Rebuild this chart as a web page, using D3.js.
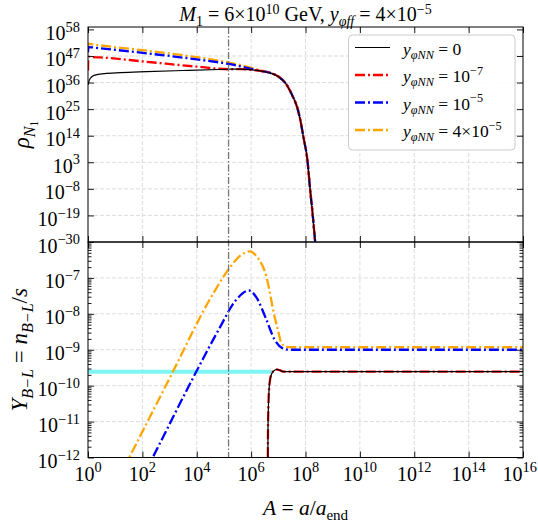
<!DOCTYPE html>
<html><head><meta charset="utf-8">
<script src="https://cdn.jsdelivr.net/npm/d3@7"></script>
<style>body{margin:0;background:#fff}svg{display:block}</style>
</head><body>
<svg id="chart" width="538" height="523"></svg>
<script>
// ---- data (log10 values) ----
// upper panel: rho_N1 versus A = a/a_end
const rhoHeadA_0   = [0, 0.05, 0.12, 0.26, 0.6, 1.2, 2.16, 3.5, 5.1, 5.6, 6.07, 6.4];
const rhoHead_0    = [35.0, 37.0, 38.2, 39.1, 39.7, 40.1, 40.5, 41.0, 41.5, 41.6, 41.2, 40.7];
const rhoHeadA_m7  = [0, 0.015, 0.44, 2.16, 4.0, 5.22, 5.6, 6.07, 6.4];
const rhoHead_m7   = [41.0, 46.6, 46.4, 44.6, 42.6, 41.5, 41.6, 41.2, 40.7];
const rhoHeadA_m5  = [0, 0.015, 0.44, 2.16, 4.0, 5.22, 6.08, 6.4];
const rhoHead_m5   = [48.5, 50.7, 50.2, 48.1, 45.6, 43.6, 41.5, 40.7];
const rhoHeadA_4m5 = [0, 0.015, 0.19, 2.16, 4.0, 5.22, 6.08, 6.4];
const rhoHead_4m5  = [50.0, 52.1, 51.8, 49.2, 46.5, 44.2, 41.9, 40.9];
// common Boltzmann-suppressed tail
const rhoTailA = [6.7, 7.0, 7.3, 7.5, 7.7, 7.8, 7.92, 8.07, 8.16, 8.26, 8.35, 8.42];
const rhoTail  = [40.0, 38.5, 35.2, 31.0, 25.5, 21.0, 13.6, 3.9, -7.1, -18.1, -29.2, -37];

// lower panel: Y_{B-L}
const yblA_0   = [6.60, 6.612, 6.62, 6.635, 6.66, 6.7, 6.75, 6.85, 6.95, 7.05, 7.2, 16];
const ybl_0    = [-14, -12.5, -11.3, -10.6, -10.1, -9.82, -9.68, -9.58, -9.55, -9.57, -9.61, -9.61];
const yblA_m5  = [1.5, 2.40, 3.99, 4.8, 5.46, 5.92, 6.2, 6.56, 6.85, 7.14, 7.41, 16];
const ybl_m5   = [-13.3, -11.97, -9.6, -8.45, -7.6, -7.35, -7.55, -8.16, -8.7, -8.95, -9.0, -9.0];
const yblA_4m5 = [1.0, 1.57, 3.13, 4.48, 5.21, 5.6, 5.94, 6.2, 6.56, 6.86, 7.0, 7.11, 7.29, 7.5, 16];
const ybl_4m5  = [-12.76, -11.92, -9.6, -7.6, -6.72, -6.38, -6.26, -6.4, -6.96, -8.07, -8.5, -8.81, -8.92, -8.93, -8.93];

const observedLogY = -9.61;          // observed Y_{B-L}
const observedEndLogA = 6.75;
const reheatLogA = 5.17;             // vertical marker

const xTickExps = [0, 2, 4, 6, 8, 10, 12, 14, 16];
const topTickExps = [58, 47, 36, 25, 14, 3, -8, -19, -30];
const botTickExps = [-12, -11, -10, -9, -8, -7];

// ---- layout ----
const FONT = '"Liberation Serif"';
const W = 538;
const L = 88, R = 523, T1 = 27, B1 = 242, T2 = 242, B2 = 457.5;
const svg = d3.select("#chart");
svg.append("rect").attr("width", 538).attr("height", 523).attr("fill", "#fff");

const x = d3.scaleLog().domain([1, 1e16]).range([L, R]);
const yTop = d3.scaleLog().domain([1e-30, 1e59]).range([B1, T1]);
const yBot = d3.scaleLog().domain([1e-12, 1e-6]).range([B2, T2]);
const p10 = v => Math.pow(10, v);

const defs = svg.append("defs");
defs.append("clipPath").attr("id", "clipTop").append("rect").attr("x", L).attr("y", T1).attr("width", R - L).attr("height", B1 - T1);
defs.append("clipPath").attr("id", "clipBot").append("rect").attr("x", L).attr("y", T2).attr("width", R - L).attr("height", B2 - T2);

// math-style text made of tspans
function mtext(g, px, py, parts, size, anchor, transform) {
  const t = g.append("text").style("font-family", FONT).style("font-size", size + "px")
    .attr("text-anchor", anchor || "start").attr("fill", "#000");
  if (transform) t.attr("transform", transform); else t.attr("x", px).attr("y", py);
  let cur = 0;
  parts.forEach(p => {
    const shift = (p.s || 0) * size;
    const ts = t.append("tspan").text(p.t).attr("dy", shift - cur);
    cur = shift;
    if (p.f) ts.style("font-size", (size * p.f) + "px");
    if (p.i) ts.style("font-style", "italic");
  });
  return t;
}
const SUP = -0.42, SUB = 0.25;
function powLabel(e) {
  return [{t: "10"}, {t: String(e).replace("-", "\u2212"), s: SUP, f: 0.72}];
}

// ---- grids ----
const grid = svg.append("g").attr("stroke", "#d4d4d4").attr("stroke-width", 0.8).attr("stroke-dasharray", "4,2");
xTickExps.slice(1, -1).forEach(e => {
  grid.append("line").attr("x1", x(p10(e))).attr("x2", x(p10(e))).attr("y1", T1).attr("y2", B2);
});
topTickExps.slice(1, -1).forEach(e => {
  grid.append("line").attr("x1", L).attr("x2", R).attr("y1", yTop(p10(e))).attr("y2", yTop(p10(e)));
});
botTickExps.slice(1).forEach(e => {
  grid.append("line").attr("x1", L).attr("x2", R).attr("y1", yBot(p10(e))).attr("y2", yBot(p10(e)));
});

// ---- lines ----
function series(A, V) { return A.map((a, i) => [p10(a), p10(V[i])]); }
const lineTop = d3.line().x(d => x(d[0])).y(d => yTop(d[1])).curve(d3.curveMonotoneX);
const lineBot = d3.line().x(d => x(d[0])).y(d => yBot(d[1])).curve(d3.curveMonotoneX);
const DASH = "10,3,2,3";
const COLORS = {k: "#000", r: "#ff0000", b: "#0000ff", o: "#ffa500"};

const gTop = svg.append("g").attr("clip-path", "url(#clipTop)").attr("fill", "none");
const gBot = svg.append("g").attr("clip-path", "url(#clipBot)").attr("fill", "none");

// observed asymmetry band
gBot.append("line").attr("x1", x(1)).attr("x2", x(p10(observedEndLogA)))
  .attr("y1", yBot(p10(observedLogY))).attr("y2", yBot(p10(observedLogY)))
  .attr("stroke", "#7ff4f4").attr("stroke-width", 4);

const topSeries = [
  {A: rhoHeadA_4m5.concat(rhoTailA), V: rhoHead_4m5.concat(rhoTail), c: COLORS.o, d: DASH, w: 2.3},
  {A: rhoHeadA_m5.concat(rhoTailA),  V: rhoHead_m5.concat(rhoTail),  c: COLORS.b, d: DASH, w: 2.3},
  {A: rhoHeadA_m7.concat(rhoTailA),  V: rhoHead_m7.concat(rhoTail),  c: COLORS.r, d: DASH, w: 2.3},
  {A: rhoHeadA_0.concat(rhoTailA),   V: rhoHead_0.concat(rhoTail),   c: COLORS.k, d: null, w: 1.2}
];
topSeries.forEach(s => {
  gTop.append("path").attr("d", lineTop(series(s.A, s.V))).attr("stroke", s.c)
    .attr("stroke-width", s.w).attr("stroke-dasharray", s.d);
});
const botSeries = [
  {A: yblA_4m5, V: ybl_4m5, c: COLORS.o, d: DASH, w: 2.3},
  {A: yblA_m5,  V: ybl_m5,  c: COLORS.b, d: DASH, w: 2.3},
  {A: yblA_0,   V: ybl_0,   c: COLORS.r, d: DASH, w: 2.3},
  {A: yblA_0,   V: ybl_0,   c: COLORS.k, d: null, w: 1.2}
];
botSeries.forEach(s => {
  gBot.append("path").attr("d", lineBot(series(s.A, s.V))).attr("stroke", s.c)
    .attr("stroke-width", s.w).attr("stroke-dasharray", s.d);
});

// vertical marker
svg.append("line").attr("x1", x(p10(reheatLogA))).attr("x2", x(p10(reheatLogA)))
  .attr("y1", T1).attr("y2", B2).attr("stroke", "#777").attr("stroke-width", 1.3)
  .attr("stroke-dasharray", "7,2,1.5,2");

// ---- axes (inward ticks on all sides) ----
function axisG(axis, tx, ty) {
  const g = svg.append("g").attr("transform", `translate(${tx},${ty})`).call(axis);
  g.select(".domain").remove();
  g.selectAll("text").remove();
  g.selectAll("line").attr("stroke", "#000").attr("stroke-width", 0.9);
  return g;
}
const xTickVals = xTickExps.map(p10);
[[T1, d3.axisTop], [B1, d3.axisBottom], [T2, d3.axisTop], [B2, d3.axisBottom]].forEach(([yy, ax]) => {
  axisG(ax(x).tickValues(xTickVals).tickSizeInner(-6).tickSizeOuter(0), 0, yy);
});
const topVals = topTickExps.map(p10);
axisG(d3.axisLeft(yTop).tickValues(topVals).tickSizeInner(-6).tickSizeOuter(0), L, 0);
axisG(d3.axisRight(yTop).tickValues(topVals).tickSizeInner(-6).tickSizeOuter(0), R, 0);
const botVals = botTickExps.map(p10);
const botMinor = [];
for (let e = -12; e < -6; e++) for (let k = 2; k <= 9; k++) botMinor.push(k * p10(e));
axisG(d3.axisLeft(yBot).tickValues(botVals).tickSizeInner(-6).tickSizeOuter(0), L, 0);
axisG(d3.axisRight(yBot).tickValues(botVals).tickSizeInner(-6).tickSizeOuter(0), R, 0);
axisG(d3.axisLeft(yBot).tickValues(botMinor).tickSizeInner(-3.5).tickSizeOuter(0), L, 0);
axisG(d3.axisRight(yBot).tickValues(botMinor).tickSizeInner(-3.5).tickSizeOuter(0), R, 0);

// spines
[[T1, B1], [T2, B2]].forEach(([a, b]) => {
  svg.append("rect").attr("x", L).attr("y", a).attr("width", R - L).attr("height", b - a)
    .attr("fill", "none").attr("stroke", "#000").attr("stroke-width", 1);
});

// tick labels
const labels = svg.append("g");
const TICK_FS = 20;
topTickExps.forEach(e => mtext(labels, 80, yTop(p10(e)) + 10.5, powLabel(e), TICK_FS, "end"));
botTickExps.forEach(e => mtext(labels, 80, yBot(p10(e)) + 10.5, powLabel(e), TICK_FS, "end"));
xTickExps.forEach(e => {
  const t = mtext(labels, x(p10(e)), B2 + 23, powLabel(e), TICK_FS, "middle");
  // keep the last label inside the canvas
  const bb = t.node().getBBox();
  if (bb.x + bb.width > W - 1) t.attr("text-anchor", "end").attr("x", W - 1);
});

// axis titles
mtext(svg, 0, 0, [{t: "A", i: true}, {t: " = "}, {t: "a", i: true}, {t: "/"}, {t: "a", i: true}, {t: "end", s: SUB, f: 0.7}],
  21.5, "middle", `translate(${(L + R) / 2},515)`);
mtext(svg, 0, 0, [{t: "\u03c1", i: true}, {t: "N", i: true, s: SUB, f: 0.7}, {t: "1", s: 0.4, f: 0.5}],
  23, "middle", `translate(29,${(T1 + B1) / 2}) rotate(-90)`);
mtext(svg, 0, 0, [{t: "Y", i: true}, {t: "B\u2212L", i: true, s: SUB, f: 0.7}, {t: " = "}, {t: "n", i: true},
  {t: "B\u2212L", i: true, s: SUB, f: 0.7}, {t: "/"}, {t: "s", i: true}],
  23, "middle", `translate(27,${(T2 + B2) / 2}) rotate(-90)`);

// title
const TSUP = -0.36;
mtext(svg, (L + R) / 2, 21, [{t: "M", i: true}, {t: "1", s: SUB, f: 0.7}, {t: " = 6\u00d710"}, {t: "10", s: TSUP, f: 0.7},
  {t: " GeV, "}, {t: "y", i: true}, {t: "\u03c6ff", i: true, s: SUB, f: 0.7}, {t: " = 4\u00d710"}, {t: "\u22125", s: TSUP, f: 0.7}],
  20, "middle");

// ---- legend ----
const legendItems = [
  {c: COLORS.k, d: null, w: 1.2, tail: [{t: " = 0"}]},
  {c: COLORS.r, d: DASH, w: 2.3, tail: [{t: " = 10"}, {t: "\u22127", s: SUP, f: 0.7}]},
  {c: COLORS.b, d: DASH, w: 2.3, tail: [{t: " = 10"}, {t: "\u22125", s: SUP, f: 0.7}]},
  {c: COLORS.o, d: DASH, w: 2.3, tail: [{t: " = 4\u00d710"}, {t: "\u22125", s: SUP, f: 0.7}]}
];
const lg = svg.append("g");
lg.append("rect").attr("x", 348.5).attr("y", 35).attr("width", 166.5).attr("height", 115).attr("rx", 4)
  .attr("fill", "#fff").attr("fill-opacity", 0.9).attr("stroke", "#cccccc").attr("stroke-width", 1);
legendItems.forEach((it, i) => {
  const yy = 47.5 + i * 27.5;
  lg.append("line").attr("x1", 355).attr("x2", 390).attr("y1", yy).attr("y2", yy)
    .attr("stroke", it.c).attr("stroke-width", it.w).attr("stroke-dasharray", it.d);
  mtext(lg, 403, yy + 7, [{t: "y", i: true}, {t: "\u03c6NN", i: true, s: SUB, f: 0.7}].concat(it.tail), 17.5, "start");
});
</script>
</body></html>
